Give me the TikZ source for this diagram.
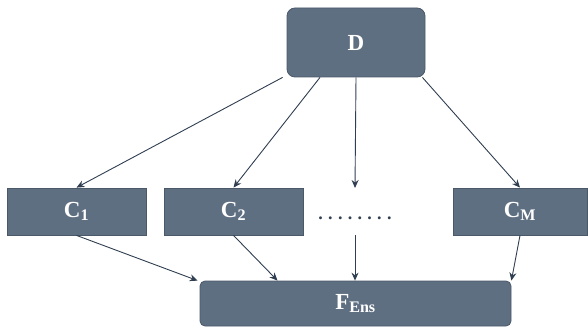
\documentclass[tikz,border=0pt]{standalone}
\usepackage{fontspec}
\setmainfont{Liberation Serif}
\usetikzlibrary{arrows.meta}
\definecolor{boxfill}{HTML}{5F6F82}
\definecolor{boxedge}{HTML}{4A5868}
\definecolor{arrowc}{HTML}{2F3E50}
\newcommand{\dd}{.\hskip 5.3pt}
\begin{document}
\begin{tikzpicture}[x=1pt,y=1pt,
  box/.style={draw=boxedge,fill=boxfill,line width=0.8pt,text=white,font=\fontsize{23}{26}\selectfont\bfseries,inner sep=0pt},
  conn/.style={draw=arrowc,line width=0.9pt,-{Stealth[length=8pt,width=7pt]}}]
\useasboundingbox (0,0) rectangle (588,327);
\node[box,rounded corners=8pt,minimum width=138pt,minimum height=69pt] (D) at (356,284.5) {D};
\node[box,minimum width=139pt,minimum height=47pt] (C1) at (76.5,115.5) {C\textsubscript{1}};
\node[box,minimum width=139pt,minimum height=47pt] (C2) at (233.5,115.5) {C\textsubscript{2}};
\node[box,minimum width=134pt,minimum height=47pt] (CM) at (520,115.5) {C\textsubscript{M}};
\node[box,rounded corners=5pt,minimum width=311pt,minimum height=45pt] (F) at (355.5,23.5) {F\textsubscript{Ens}};
\node[font=\fontsize{18}{20}\selectfont\bfseries, text=arrowc] (dots) at (355,109) {\dd\dd\dd\dd\dd\dd\dd.};
\coordinate (dtop) at (355,139);
\coordinate (dbot) at (355,92);
\draw[conn] ([xshift=-4pt]D.south west) -- (C1.north);
\draw[conn] ([xshift=-36pt]D.south) -- (C2.north);
\draw[conn] (D.south) -- (dtop);
\draw[conn] ([xshift=-3pt]D.south east) -- (CM.north);
\draw[conn] (C1.south) -- ([xshift=-2pt]F.north west);
\draw[conn] (C2.south) -- ([xshift=-78pt]F.north);
\draw[conn] (dbot) -- (dots |- F.north);
\draw[conn] (CM.south) -- (F.north east);
\end{tikzpicture}
\end{document}
